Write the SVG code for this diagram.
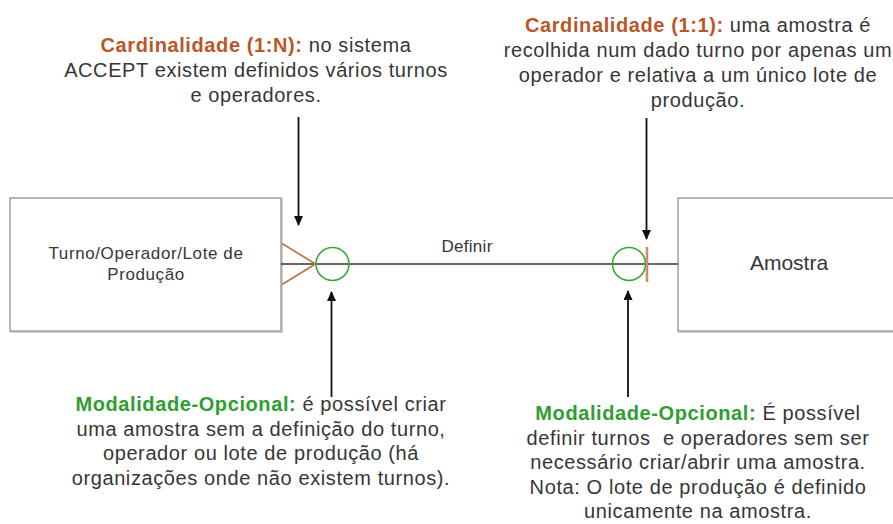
<svg xmlns="http://www.w3.org/2000/svg" width="893" height="524" viewBox="0 0 893 524">
<style>
text{font-family:"Liberation Sans",Arial,sans-serif;fill:#363636}
.ann{font-size:20px;letter-spacing:0.6px;text-anchor:middle}
.card{fill:#b9572b;font-weight:bold}
.mod{fill:#2f9e2f;font-weight:bold}
.box{fill:#ffffff;stroke:#a6a6a6;stroke-width:1.6}
.shadow{fill:none;stroke:#d0d0d0;stroke-width:2}
.arrow{stroke:#111;stroke-width:1.8;fill:none;marker-end:url(#ah)}
</style>
<defs>
<marker id="ah" markerUnits="userSpaceOnUse" markerWidth="10" markerHeight="12" refX="9" refY="4.5" orient="auto">
<path d="M0,0 L10,4.5 L0,9 z" fill="#111"/>
</marker>
</defs>
<rect width="893" height="524" fill="#ffffff"/>

<g id="node-turno">
<rect class="shadow" x="11" y="199" width="271" height="133"/>
<rect class="box" x="10" y="198" width="271" height="133"/>
<text x="146" y="259" style="font-size:17px;letter-spacing:0.6px;text-anchor:middle">Turno/Operador/Lote de</text>
<text x="146" y="280" style="font-size:17px;letter-spacing:0.6px;text-anchor:middle">Produção</text>
</g>

<g id="node-amostra">
<rect class="shadow" x="679" y="199" width="230" height="133"/>
<rect class="box" x="678" y="198" width="230" height="133"/>
<text x="789" y="270" style="font-size:21px;text-anchor:middle">Amostra</text>
</g>

<g id="connectors">
<line x1="281" y1="264" x2="678" y2="264" stroke="#333" stroke-width="1.6"/>
<text x="467" y="252" style="font-size:17px;letter-spacing:0.3px;text-anchor:middle">Definir</text>
<line x1="282" y1="243.5" x2="315.5" y2="264" stroke="#c0703f" stroke-width="1.6"/>
<line x1="282" y1="284.5" x2="315.5" y2="264" stroke="#c0703f" stroke-width="1.6"/>
<circle cx="332.5" cy="264" r="16.5" fill="none" stroke="#3aaa35" stroke-width="1.6"/>
<circle cx="629" cy="264" r="16.5" fill="none" stroke="#3aaa35" stroke-width="1.6"/>
<line x1="647" y1="247" x2="647" y2="282" stroke="#d4876a" stroke-width="2.5"/>
<line class="arrow" x1="298.5" y1="117" x2="298.5" y2="225"/>
<line class="arrow" x1="646.5" y1="118" x2="646.5" y2="239"/>
<line class="arrow" x1="331.5" y1="397" x2="331.5" y2="292"/>
<line class="arrow" x1="628" y1="397" x2="628" y2="291"/>
</g>

<g id="note-card-1n">
<text class="ann" x="256" y="52"><tspan class="card">Cardinalidade (1:N):</tspan> no sistema</text>
<text class="ann" x="256" y="77">ACCEPT existem definidos vários turnos</text>
<text class="ann" x="256" y="102">e operadores.</text>
</g>

<g id="note-card-11">
<text class="ann" x="698" y="32"><tspan class="card">Cardinalidade (1:1):</tspan> uma amostra é</text>
<text class="ann" x="698" y="57">recolhida num dado turno por apenas um</text>
<text class="ann" x="698" y="82">operador e relativa a um único lote de</text>
<text class="ann" x="698" y="107">produção.</text>
</g>

<g id="note-mod-left">
<text class="ann" x="261" y="411"><tspan class="mod">Modalidade-Opcional:</tspan> é possível criar</text>
<text class="ann" x="261" y="436">uma amostra sem a definição do turno,</text>
<text class="ann" x="261" y="460">operador ou lote de produção (há</text>
<text class="ann" x="261" y="485">organizações onde não existem turnos).</text>
</g>

<g id="note-mod-right">
<text class="ann" x="698" y="420"><tspan class="mod">Modalidade-Opcional:</tspan> É possível</text>
<text class="ann" x="698" y="445">definir turnos&#160; e operadores sem ser</text>
<text class="ann" x="698" y="469">necessário criar/abrir uma amostra.</text>
<text class="ann" x="698" y="494">Nota: O lote de produção é definido</text>
<text class="ann" x="698" y="518">unicamente na amostra.</text>
</g>
</svg>
